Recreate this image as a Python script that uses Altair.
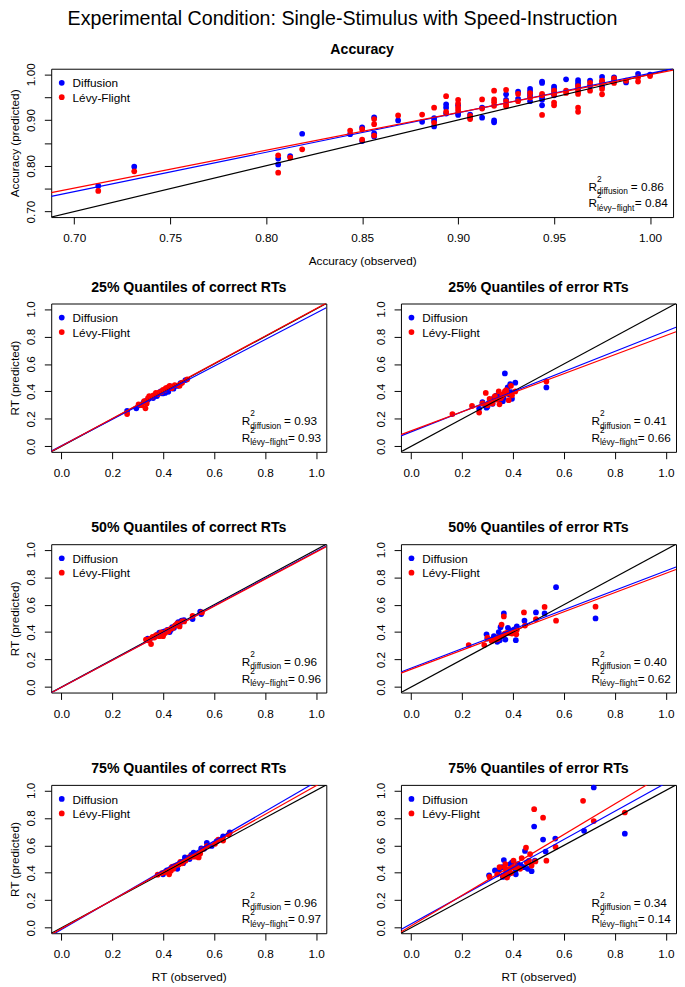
import altair as alt
import pandas as pd

BLUE, RED = "#0000FF", "#FF0000"
FONT = "Liberation Sans"

# ---------------- Accuracy ----------------
acc_obs_diff = [0.7125, 0.73125, 0.80625, 0.80625, 0.8125, 0.81875, 0.84375, 0.85, 0.85,
                0.85625, 0.85625, 0.85625, 0.86875, 0.88125, 0.8875, 0.8875, 0.8875,
                0.89375, 0.89375, 0.89375, 0.9, 0.9, 0.9, 0.90625, 0.90625, 0.9125, 0.9125,
                0.91875, 0.91875, 0.925, 0.925, 0.93125, 0.93125, 0.9375, 0.9375, 0.9375,
                0.9375, 0.9375, 0.94375, 0.94375, 0.94375, 0.94375, 0.94375, 0.95, 0.95,
                0.95, 0.95, 0.95625, 0.9625, 0.9625, 0.9625, 0.9625, 0.96875, 0.96875,
                0.975, 0.975, 0.975, 0.98125, 0.98125, 0.9875, 0.99375, 1.0]
acc_pred_diff = [0.756, 0.798, 0.816, 0.803, 0.821, 0.870, 0.869, 0.884, 0.854,
                 0.906, 0.871, 0.864, 0.899, 0.896, 0.904, 0.898, 0.886,
                 0.934, 0.927, 0.914, 0.932, 0.914, 0.911, 0.912, 0.905, 0.927, 0.905,
                 0.899, 0.895, 0.956, 0.944, 0.962, 0.946, 0.968, 0.962, 0.956,
                 0.951, 0.941, 0.984, 0.981, 0.949, 0.944, 0.932, 0.973, 0.968,
                 0.961, 0.954, 0.989, 0.987, 0.981, 0.976, 0.968, 0.986, 0.975,
                 0.994, 0.984, 0.973, 0.993, 0.986, 0.982, 1.001, 0.999]
acc_obs_levy = [0.7125, 0.73125, 0.80625, 0.80625, 0.8125, 0.81875, 0.84375, 0.85, 0.85,
                0.85625, 0.85625, 0.85625, 0.86875, 0.88125, 0.8875, 0.8875, 0.89375,
                0.89375, 0.9, 0.9, 0.9, 0.9, 0.90625, 0.90625, 0.9125, 0.9125, 0.91875,
                0.91875, 0.91875, 0.91875, 0.925, 0.925, 0.925, 0.925, 0.93125, 0.93125,
                0.9375, 0.9375, 0.94375, 0.94375, 0.94375, 0.95, 0.95, 0.95, 0.95,
                0.95625, 0.95625, 0.9625, 0.9625, 0.9625, 0.9625, 0.9625, 0.96875,
                0.96875, 0.975, 0.975, 0.975, 0.975, 0.98125, 0.98125, 0.9875, 0.99375,
                0.99375, 1.0]
acc_pred_levy = [0.745, 0.788, 0.823, 0.785, 0.818, 0.836, 0.877, 0.880, 0.857,
                 0.902, 0.891, 0.866, 0.910, 0.912, 0.927, 0.894, 0.952,
                 0.918, 0.944, 0.936, 0.927, 0.921, 0.909, 0.902, 0.945, 0.925, 0.964,
                 0.945, 0.939, 0.931, 0.966, 0.941, 0.934, 0.930, 0.957, 0.941,
                 0.959, 0.949, 0.957, 0.954, 0.911, 0.964, 0.956, 0.938, 0.932,
                 0.964, 0.959, 0.974, 0.962, 0.957, 0.927, 0.918, 0.981,
                 0.964, 0.986, 0.981, 0.968, 0.956, 0.991, 0.981, 0.986, 0.993,
                 0.984, 0.996]
acc_coef_diff = [0.140, 0.862]
acc_coef_levy = [0.173, 0.826]
acc_r2 = ["0.86", "0.84"]

# ---------------- 25% correct ----------------
q25c_obs_diff = [0.258, 0.294, 0.330, 0.343, 0.352, 0.369, 0.381, 0.390, 0.407, 0.420, 0.429, 0.468,
                 0.487, 0.310, 0.322, 0.360, 0.375, 0.398, 0.412, 0.440, 0.455, 0.337, 0.395, 0.418]
q25c_pred_diff = [0.258, 0.277, 0.329, 0.346, 0.358, 0.370, 0.384, 0.400, 0.389, 0.400, 0.436, 0.460,
                  0.483, 0.300, 0.318, 0.352, 0.366, 0.385, 0.405, 0.420, 0.440, 0.335, 0.392, 0.398]
q25c_obs_levy = [0.258, 0.303, 0.330, 0.335, 0.345, 0.361, 0.371, 0.384, 0.399, 0.410, 0.425, 0.433,
                 0.464, 0.474, 0.494, 0.315, 0.340, 0.355, 0.378, 0.392, 0.405, 0.418, 0.445, 0.325]
q25c_pred_levy = [0.235, 0.306, 0.277, 0.313, 0.365, 0.372, 0.389, 0.393, 0.412, 0.424, 0.441, 0.424,
                  0.441, 0.464, 0.488, 0.300, 0.352, 0.362, 0.380, 0.396, 0.410, 0.430, 0.446, 0.330]
q25c_coef_diff = [0.004, 0.967]
q25c_coef_levy = [0.003, 1.000]
q25c_r2 = ["0.93", "0.93"]

# ---------------- 25% error ----------------
q25e_obs_diff = [0.267, 0.280, 0.296, 0.306, 0.315, 0.325, 0.334, 0.351, 0.360, 0.368, 0.379, 0.389, 0.396,
                 0.409, 0.531, 0.290, 0.320, 0.345, 0.355, 0.372, 0.385, 0.300, 0.340, 0.363, 0.392]
q25e_pred_diff = [0.275, 0.322, 0.282, 0.318, 0.336, 0.353, 0.370, 0.341, 0.329, 0.531, 0.429, 0.453, 0.346,
                  0.464, 0.429, 0.300, 0.310, 0.360, 0.375, 0.395, 0.380, 0.290, 0.345, 0.350, 0.395]
q25e_obs_levy = [0.162, 0.239, 0.267, 0.280, 0.293, 0.308, 0.319, 0.329, 0.344, 0.347, 0.357, 0.368,
                 0.377, 0.383, 0.392, 0.396, 0.409, 0.531, 0.300, 0.312, 0.336, 0.352, 0.362, 0.373]
q25e_pred_levy = [0.235, 0.294, 0.246, 0.313, 0.389, 0.346, 0.313, 0.365, 0.400, 0.306, 0.365, 0.400,
                  0.384, 0.336, 0.441, 0.372, 0.400, 0.472, 0.300, 0.330, 0.340, 0.350, 0.380, 0.410]
q25e_coef_diff = [0.106, 0.732]
q25e_coef_levy = [0.113, 0.694]
q25e_r2 = ["0.41", "0.66"]

# ---------------- 50% correct ----------------
q50c_obs_diff = [0.339, 0.345, 0.378, 0.390, 0.397, 0.416, 0.425, 0.442, 0.459, 0.472, 0.481, 0.515,
                 0.545, 0.549, 0.360, 0.405, 0.435, 0.450, 0.370, 0.465, 0.430, 0.385]
q50c_pred_diff = [0.353, 0.341, 0.384, 0.389, 0.400, 0.417, 0.400, 0.431, 0.472, 0.483, 0.488, 0.495,
                  0.550, 0.531, 0.362, 0.405, 0.436, 0.452, 0.372, 0.462, 0.418, 0.396]
q50c_obs_levy = [0.332, 0.352, 0.358, 0.384, 0.399, 0.407, 0.429, 0.446, 0.455, 0.464, 0.474, 0.515,
                 0.552, 0.340, 0.365, 0.372, 0.392, 0.415, 0.437, 0.482, 0.420, 0.348]
q50c_pred_levy = [0.346, 0.313, 0.365, 0.370, 0.370, 0.393, 0.424, 0.448, 0.464, 0.441, 0.479, 0.519,
                  0.543, 0.340, 0.360, 0.378, 0.398, 0.412, 0.430, 0.478, 0.405, 0.350]
q50c_coef_diff = [-0.002, 0.990]
q50c_coef_levy = [-0.002, 0.985]
q50c_r2 = ["0.96", "0.96"]

# ---------------- 50% error ----------------
q50e_obs_diff = [0.296, 0.299, 0.325, 0.338, 0.344, 0.351, 0.364, 0.370, 0.380, 0.389, 0.411, 0.415,
                 0.445, 0.490, 0.524, 0.569, 0.724, 0.318, 0.335, 0.357, 0.395, 0.405, 0.348]
q50e_pred_diff = [0.384, 0.353, 0.370, 0.329, 0.400, 0.436, 0.536, 0.346, 0.431, 0.412, 0.341, 0.441,
                  0.483, 0.543, 0.536, 0.727, 0.500, 0.345, 0.355, 0.372, 0.400, 0.420, 0.340]
q50e_obs_levy = [0.226, 0.287, 0.316, 0.332, 0.342, 0.355, 0.364, 0.368, 0.386, 0.396, 0.402, 0.413,
                 0.415, 0.443, 0.447, 0.490, 0.524, 0.569, 0.724, 0.300, 0.340, 0.375, 0.360]
q50e_pred_levy = [0.306, 0.306, 0.336, 0.346, 0.365, 0.455, 0.514, 0.389, 0.393, 0.389, 0.400, 0.384,
                  0.417, 0.543, 0.448, 0.495, 0.583, 0.483, 0.585, 0.360, 0.350, 0.395, 0.378]
q50e_coef_diff = [0.138, 0.708]
q50e_coef_levy = [0.129, 0.699]
q50e_r2 = ["0.40", "0.62"]

# ---------------- 75% correct ----------------
q75c_obs_diff = [0.399, 0.414, 0.429, 0.442, 0.455, 0.468, 0.485, 0.494, 0.510, 0.519, 0.526, 0.549,
                 0.571, 0.590, 0.610, 0.635, 0.661, 0.420, 0.450, 0.478, 0.503, 0.535, 0.560, 0.437]
q75c_pred_diff = [0.389, 0.417, 0.429, 0.441, 0.429, 0.476, 0.512, 0.507, 0.531, 0.547, 0.536, 0.578,
                  0.618, 0.595, 0.630, 0.666, 0.694, 0.405, 0.452, 0.470, 0.500, 0.540, 0.575, 0.445]
q75c_obs_levy = [0.378, 0.407, 0.423, 0.433, 0.448, 0.461, 0.474, 0.487, 0.500, 0.515, 0.528, 0.539,
                 0.554, 0.571, 0.603, 0.616, 0.635, 0.657, 0.395, 0.440, 0.467, 0.508, 0.545, 0.430]
q75c_pred_levy = [0.386, 0.405, 0.389, 0.441, 0.453, 0.460, 0.469, 0.488, 0.512, 0.517, 0.517, 0.512,
                  0.571, 0.595, 0.611, 0.642, 0.635, 0.678, 0.398, 0.430, 0.480, 0.520, 0.540, 0.415]
q75c_coef_diff = [-0.013, 1.075]
q75c_coef_levy = [-0.007, 1.041]
q75c_r2 = ["0.96", "0.97"]

# ---------------- 75% error ----------------
q75e_obs_diff = [0.306, 0.329, 0.357, 0.360, 0.364, 0.383, 0.389, 0.396, 0.409, 0.411, 0.419, 0.441,
                 0.447, 0.458, 0.473, 0.483, 0.486, 0.518, 0.528, 0.566, 0.679, 0.717, 0.839, 0.345,
                 0.375, 0.430]
q75e_pred_diff = [0.382, 0.417, 0.441, 0.370, 0.493, 0.389, 0.464, 0.476, 0.405, 0.389, 0.464, 0.441,
                  0.559, 0.429, 0.412, 0.737, 0.488, 0.642, 0.555, 0.649, 0.706, 1.021, 0.685, 0.420,
                  0.400, 0.455]
q75e_obs_levy = [0.308, 0.338, 0.347, 0.368, 0.370, 0.373, 0.377, 0.387, 0.393, 0.400, 0.402, 0.415,
                 0.428, 0.434, 0.451, 0.454, 0.463, 0.467, 0.473, 0.483, 0.488, 0.518, 0.531, 0.567,
                 0.675, 0.717, 0.839, 0.360]
q75e_pred_levy = [0.370, 0.389, 0.441, 0.441, 0.464, 0.405, 0.365, 0.429, 0.398, 0.441, 0.488, 0.441,
                  0.429, 0.507, 0.583, 0.476, 0.488, 0.536, 0.453, 0.863, 0.483, 0.801, 0.488, 0.588,
                  0.924, 0.777, 0.839, 0.380]
q75e_coef_diff = [0.028, 1.025]
q75e_coef_levy = [0.0126, 1.111]
q75e_r2 = ["0.34", "0.14"]

MAIN_TITLE = "Experimental Condition: Single-Stimulus with Speed-Instruction"
ACC_DOMAIN = [0.688, 1.012]
RT_DOMAIN = [-0.04, 1.04]
ACC_TICKS = [0.70, 0.75, 0.80, 0.85, 0.90, 0.95, 1.00]
RT_TICKS = [0.0, 0.2, 0.4, 0.6, 0.8, 1.0]

ONE = alt.Data(values=[{"k": 0}])


def txt(text, x, y, size=12, baseline="alphabetic"):
    return alt.Chart(ONE).mark_text(
        text=text, align="left", baseline=baseline, fontSize=size, font=FONT, color="black"
    ).encode(x=alt.value(x), y=alt.value(y))


def dot(x, y, color):
    return alt.Chart(ONE).mark_circle(size=34, opacity=1, color=color).encode(
        x=alt.value(x), y=alt.value(y))


def panel(title, obs_d, pred_d, obs_l, pred_l, coef_d, coef_l, r2, dom, ticks, fmt,
          width, height, xlab=None, ylab=None, x_extent=30, y_label_expr=None):
    xkw = dict(values=ticks, format=fmt, tickSize=7, labelPadding=9, minExtent=x_extent,
               maxExtent=x_extent, labelFlush=False, labelOverlap=False, titlePadding=9)
    xkw["title"] = xlab
    ykw = dict(values=ticks, format=fmt, tickSize=7, labelPadding=7, labelAngle=270,
               labelAlign="center", labelBaseline="bottom", minExtent=26, maxExtent=26,
               labelFlush=False, labelOverlap=False, titlePadding=4)
    ykw["title"] = ylab
    if y_label_expr:
        ykw["labelExpr"] = y_label_expr
    xe = alt.X("x:Q", scale=alt.Scale(domain=dom, nice=False, zero=False), axis=alt.Axis(**xkw))
    ye = alt.Y("y:Q", scale=alt.Scale(domain=dom, nice=False, zero=False), axis=alt.Axis(**ykw))

    pd_d = pd.DataFrame({"x": obs_d, "y": pred_d})
    pd_l = pd.DataFrame({"x": obs_l, "y": pred_l})
    ident = pd.DataFrame({"x": dom, "y": dom})
    ld = pd.DataFrame({"x": dom, "y": [coef_d[0] + coef_d[1] * v for v in dom]})
    ll = pd.DataFrame({"x": dom, "y": [coef_l[0] + coef_l[1] * v for v in dom]})

    layers = [
        alt.Chart(pd_d).mark_circle(size=34, opacity=1, color=BLUE).encode(x=xe, y=ye),
        alt.Chart(pd_l).mark_circle(size=34, opacity=1, color=RED).encode(x=xe, y=ye),
        alt.Chart(ident).mark_line(clip=True, color="black", strokeWidth=1.2).encode(x=xe, y=ye),
        alt.Chart(ld).mark_line(clip=True, color=BLUE, strokeWidth=1.2).encode(x=xe, y=ye),
        alt.Chart(ll).mark_line(clip=True, color=RED, strokeWidth=1.2).encode(x=xe, y=ye),
        # legend
        dot(10.7, 14.3, BLUE), dot(10.7, 29, RED),
        txt("Diffusion", 21.7, 15, baseline="middle"),
        txt("Lévy-Flight", 21.7, 29.7, baseline="middle"),
        # R^2 annotations
        txt("R", width - 86, height - 27), txt("2", width - 77.5, height - 36, size=8.5),
        txt("diffusion", width - 77.5, height - 23.5, size=8.5),
        txt("= " + r2[0], width - 43, height - 27),
        txt("R", width - 86, height - 10), txt("2", width - 77.5, height - 19, size=8.5),
        txt("lévy−flight", width - 77.5, height - 6.5, size=8.5),
        txt("= " + r2[1], width - 39, height - 10),
    ]
    return alt.layer(*layers).properties(title=title, width=width, height=height)


H = 151
top = panel("Accuracy", acc_obs_diff, acc_pred_diff, acc_obs_levy, acc_pred_levy,
            acc_coef_diff, acc_coef_levy, acc_r2, ACC_DOMAIN, ACC_TICKS, ".2f", 633, H,
            xlab="Accuracy (observed)", ylab="Accuracy (predicted)", x_extent=30,
            y_label_expr="(round(datum.value*100) % 10 == 0) ? format(datum.value, '.2f') : ''")

W = 280


def row(tl, tr, dl, dr, bottom=False):
    xl = "RT (observed)" if bottom else None
    ext = 30 if bottom else 56
    left = panel(tl, *dl, RT_DOMAIN, RT_TICKS, ".1f", W, H, xlab=xl, ylab="RT (predicted)", x_extent=ext)
    right = panel(tr, *dr, RT_DOMAIN, RT_TICKS, ".1f", W, H, xlab=xl, ylab=None, x_extent=ext)
    return alt.hconcat(left, right, spacing=47)


r1 = row("25% Quantiles of correct RTs", "25% Quantiles of error RTs",
         (q25c_obs_diff, q25c_pred_diff, q25c_obs_levy, q25c_pred_levy, q25c_coef_diff, q25c_coef_levy, q25c_r2),
         (q25e_obs_diff, q25e_pred_diff, q25e_obs_levy, q25e_pred_levy, q25e_coef_diff, q25e_coef_levy, q25e_r2))
r2 = row("50% Quantiles of correct RTs", "50% Quantiles of error RTs",
         (q50c_obs_diff, q50c_pred_diff, q50c_obs_levy, q50c_pred_levy, q50c_coef_diff, q50c_coef_levy, q50c_r2),
         (q50e_obs_diff, q50e_pred_diff, q50e_obs_levy, q50e_pred_levy, q50e_coef_diff, q50e_coef_levy, q50e_r2))
r3 = row("75% Quantiles of correct RTs", "75% Quantiles of error RTs",
         (q75c_obs_diff, q75c_pred_diff, q75c_obs_levy, q75c_pred_levy, q75c_coef_diff, q75c_coef_levy, q75c_r2),
         (q75e_obs_diff, q75e_pred_diff, q75e_obs_levy, q75e_pred_levy, q75e_coef_diff, q75e_coef_levy, q75e_r2),
         bottom=True)

chart = alt.vconcat(top, r1, r2, r3, spacing=12).properties(
    title=alt.TitleParams(MAIN_TITLE, fontSize=20, fontWeight="normal", font=FONT,
                          anchor="middle", offset=13, color="black"),
    padding={"top": -8, "left": 0, "right": 0, "bottom": 0},
).configure_view(stroke="black", strokeWidth=1).configure_axis(
    grid=False, domain=False, labelFont=FONT, labelFontSize=12, labelColor="black",
    tickColor="black", tickWidth=1, titleFont=FONT, titleFontSize=12, titleFontWeight="normal",
    titleColor="black"
).configure_title(font=FONT, fontSize=14.4, fontWeight="bold", color="black", offset=6)

chart.save("out.html", embed_options={"renderer": "svg", "actions": False})
